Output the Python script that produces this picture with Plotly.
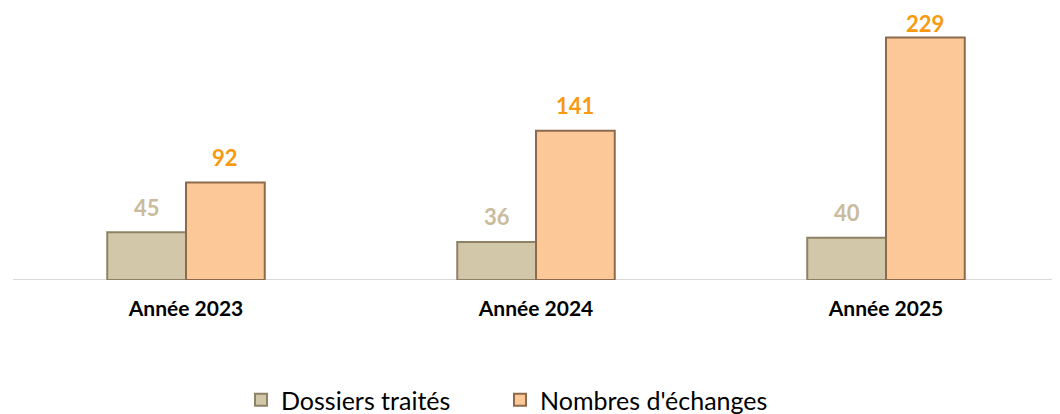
import plotly.graph_objects as go

categories = ["Année 2023", "Année 2024", "Année 2025"]
dossiers = [45, 36, 40]
echanges = [92, 141, 229]
series_names = ["Dossiers traités", "Nombres d'échanges"]

BARGAP = 0.55
half = (1 - BARGAP) / 4  # offset of each bar's centre from the category centre
Y_MAX = 255
TOP_MARGIN, PLOT_H = 2, 270
LABEL_GAP, LABEL_MIN_Y = 25, 15

fig = go.Figure()
fig.add_trace(go.Bar(
    x=categories, y=dossiers, name=series_names[0],
    marker=dict(color="#D3C7AA", line=dict(color="#8E8165", width=2)),
    legend="legend",
))
fig.add_trace(go.Bar(
    x=categories, y=echanges, name=series_names[1],
    marker=dict(color="#FDC897", line=dict(color="#8E6A4C", width=2)),
    legend="legend2",
))

# value labels, placed through the axes at each bar's centre/top
for i, cat in enumerate(categories):
    for vals, sign, col in ((dossiers, -1, "#C9BB9C"), (echanges, 1, "#F89A10")):
        bar_top_px = TOP_MARGIN + (Y_MAX - vals[i]) * PLOT_H / Y_MAX
        shift = min(LABEL_GAP, bar_top_px - LABEL_MIN_Y)
        fig.add_annotation(
            x=i + sign * half, y=vals[i], xref="x", yref="y",
            text=str(vals[i]), showarrow=False, yanchor="middle", yshift=shift,
            font=dict(color=col, size=22, family="Lato", weight="bold"),
        )

legend_common = dict(orientation="h", xref="container", yref="container",
                     xanchor="left", y=0.053, yanchor="middle",
                     font=dict(size=25, family="Lato", color="black"),
                     itemwidth=30)

fig.update_layout(
    width=1060, height=414,
    margin=dict(l=3, r=7, t=TOP_MARGIN, b=414 - TOP_MARGIN - PLOT_H, autoexpand=False),
    paper_bgcolor="white", plot_bgcolor="white",
    barmode="group", bargap=BARGAP, bargroupgap=0,
    font=dict(family="Lato", color="black"),
    showlegend=True,
    legend=dict(x=(253 - 20) / 1060, **legend_common),
    legend2=dict(x=(512 - 20) / 1060, **legend_common),
    xaxis=dict(showgrid=False, zeroline=False, showline=False, ticks="",
               tickfont=dict(size=21, family="Lato", color="black", weight="bold"),
               ticklabelstandoff=14),
    yaxis=dict(range=[0, Y_MAX], visible=False, showgrid=False, zeroline=False),
)
fig.add_shape(type="line", xref="paper", yref="y", x0=0.002, x1=1.01, y0=0, y1=0,
              line=dict(color="#D9D9D9", width=2), layer="below")

fig.write_html("out.html")
